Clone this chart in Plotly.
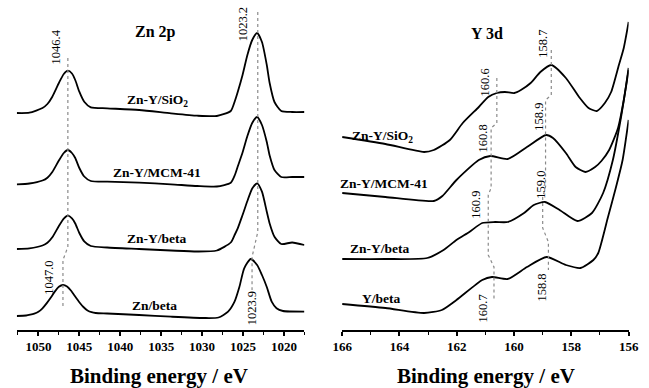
import plotly.graph_objects as go

# ---------------- Zn 2p panel (binding energy in eV, stacked intensity in a.u.) -------------
zn_E = [1052.64, 1051.1, 1049.5, 1048.9, 1048.3, 1047.5, 1046.9, 1046.4, 1045.9, 1045.5,
        1045.0, 1044.4, 1043.6, 1041.6, 1037.7, 1033.8, 1030.6, 1028.2, 1026.5, 1026.0,
        1025.65, 1025.06, 1024.47, 1023.88, 1023.28, 1022.69, 1022.1, 1021.75, 1021.16,
        1020.33, 1019.0, 1017.5]
zn_sio2_I = [217, 217.3, 222, 226, 233.3, 247, 256, 259.3, 256.5, 250,
             238.3, 228.3, 222.7, 221.7, 220, 216.7, 214.3, 214, 219, 229,
             238, 255, 275, 290, 297, 288, 265, 247, 228,
             219, 218, 218]
zn_mcm_I = [145.7, 146.5, 149.5, 152.3, 158, 169.5, 177, 180, 177, 172,
            162, 153.5, 149, 148.3, 147.3, 145.7, 144, 143.5, 147.3, 155,
            163.5, 177.5, 194, 207, 213, 205, 188, 174.5, 160,
            153, 153, 153]
zn_beta_I = [81, 81.7, 84.5, 87.2, 92.7, 104, 111.4, 114.3, 111.6, 106.5,
             97, 88.6, 84, 82.5, 81, 79.5, 78.5, 79.5, 87.5, 95.5,
             101.6, 115, 129, 141.6, 146.7, 138.3, 118.3, 106.6, 93.3,
             86, 87.5, 85]
znb_E = [1052.64, 1051.5, 1051.0, 1050.5, 1050.0, 1049.5, 1049.0, 1048.5, 1048.0, 1047.5,
         1047.0, 1046.5, 1046.0, 1045.5, 1045.0, 1044.5, 1044.0, 1043.5, 1043.0, 1041.6,
         1037.7, 1033.8, 1029.8, 1028.0, 1026.83, 1026.04, 1025.45, 1024.86, 1024.07,
         1023.28, 1022.69, 1022.1, 1021.5, 1020.91, 1020.12, 1017.5]
znb_I = [14, 14.5, 15.3, 16.4, 18.3, 21.7, 26.6, 32.2, 38.4, 43.2,
         45, 43.5, 39.2, 33.4, 27.8, 23, 19.6, 17.8, 17, 16.5,
         15, 13.3, 12, 12.5, 18.3, 28.3, 43, 61.7, 71,
         65, 55, 43, 28.3, 21.7, 19, 18.3]

zn_guide1_E = [1046.4, 1046.4, 1047.0, 1047.0]
zn_guide1_I = [272, 83, 70, 23]
zn_guide2_E = [1023.2, 1023.2, 1023.9, 1023.9]
zn_guide2_I = [318, 98, 73, 40]

# ---------------- Y 3d panel -------------
y_sio_E = [166.0, 164.49, 163.14, 162.80, 162.24, 161.79, 161.23, 160.90, 160.60, 160.32,
           159.99, 159.76, 159.42, 159.08, 158.70, 158.19, 157.73, 157.40, 157.11, 156.83,
           156.61, 156.34, 156.17, 156.0]
y_sio_I = [193, 186, 178, 180, 190, 207, 223, 233, 237, 238,
           237, 240, 247, 258, 265, 252, 233, 222, 219, 227,
           238, 265, 282, 308]
y_mcm_E = [166.0, 164.49, 162.80, 162.5, 162.01, 161.23, 160.83, 160.22, 159.55, 158.88,
           158.64, 158.19, 157.85, 157.51, 157.17, 156.95, 156.68, 156.37, 156.17, 156.0]
y_mcm_I = [137, 133, 129, 134, 150, 170, 174, 171, 183, 195,
           192, 177, 163, 158, 163, 169, 180, 202, 230, 262]
y_beta_E = [166.0, 164.49, 163.03, 162.46, 162.01, 161.56, 161.11, 160.66, 160.22, 159.65,
            159.31, 158.92, 158.41, 157.79, 157.28, 156.89, 156.55, 156.27, 156.0]
y_beta_I = [71, 71, 72, 80, 90, 98, 107, 108, 108, 117,
            125, 128, 120, 109, 117, 137, 170, 212, 260]
y_yb_E = [166.0, 164.49, 163.14, 162.52, 162.01, 161.11, 160.77, 160.22, 159.55, 158.86,
          158.19, 157.68, 157.23, 157.06, 156.72, 156.44, 156.21, 156.0]
y_yb_I = [26, 22, 17, 20, 30, 50, 53, 51, 63, 73,
          65, 62, 70, 77, 113, 143, 170, 210]

y_guide1_E = [160.6, 160.6, 160.8, 160.8, 160.9, 160.9, 160.7, 160.7]
y_guide1_I = [252, 207, 202, 142, 135, 75, 63, 30]
y_guide2_E = [158.7, 158.7, 158.9, 158.9, 159.0, 159.0, 158.8, 158.8]
y_guide2_I = [280, 235, 230, 143, 133, 102, 88, 60]

zn_ticks = [1050, 1045, 1040, 1035, 1030, 1025, 1020]
y_ticks = [166, 164, 162, 160, 158, 156]

zn_labels = ["Zn-Y/SiO<sub>2</sub>", "Zn-Y/MCM-41", "Zn-Y/beta", "Zn/beta"]
zn_label_pos = [(1035.4, 230), (1035.5, 158), (1035.5, 92), (1035.8, 25)]
y_labels = ["Zn-Y/SiO<sub>2</sub>", "Zn-Y/MCM-41", "Zn-Y/beta", "Y/beta"]
y_label_pos = [(164.58, 194), (164.53, 147), (164.68, 82), (164.63, 32)]

zn_peak_text = ["1046.4", "1023.2", "1047.0", "1023.9"]
zn_peak_pos = [(1047.8, 283), (1024.97, 306), (1048.73, 52), (1023.87, 22)]
y_peak_text = ["160.6", "160.8", "160.9", "160.7", "158.7", "158.9", "159.0", "158.8"]
y_peak_pos = [(161.0, 248), (161.07, 192), (161.34, 125), (161.07, 22),
              (159.0, 286), (159.14, 213), (159.07, 145), (159.04, 42)]

FONT = "Liberation Serif"
fig = go.Figure()

line = dict(color="black", width=1.8, shape="spline", smoothing=0.6)
guide = dict(color="#8a8a8a", width=1.2, dash="dot")
for I in [zn_sio2_I, zn_mcm_I, zn_beta_I]:
    fig.add_trace(go.Scatter(x=zn_E, y=I, mode="lines", line=line, xaxis="x", yaxis="y"))
fig.add_trace(go.Scatter(x=znb_E, y=znb_I, mode="lines", line=line, xaxis="x", yaxis="y"))
fig.add_trace(go.Scatter(x=zn_guide1_E, y=zn_guide1_I, mode="lines", line=guide, xaxis="x", yaxis="y"))
fig.add_trace(go.Scatter(x=zn_guide2_E, y=zn_guide2_I, mode="lines", line=guide, xaxis="x", yaxis="y"))

for E, I in [(y_sio_E, y_sio_I), (y_mcm_E, y_mcm_I), (y_beta_E, y_beta_I), (y_yb_E, y_yb_I)]:
    fig.add_trace(go.Scatter(x=E, y=I, mode="lines", line=line, xaxis="x2", yaxis="y2"))
fig.add_trace(go.Scatter(x=y_guide1_E, y=y_guide1_I, mode="lines", line=guide, xaxis="x2", yaxis="y2"))
fig.add_trace(go.Scatter(x=y_guide2_E, y=y_guide2_I, mode="lines", line=guide, xaxis="x2", yaxis="y2"))

W, H = 649, 388
ydom = [1 - 330 / H, 1]
zn_range = [1052.64, 1017.5]
y_range = [166, 156]
zn_dom = [7 / W, 303.8 / W]
y_dom = [342.7 / W, 638.3 / W]

tickfont = dict(family=FONT, size=13, color="black", weight="bold")

def xaxis(rng, dom, ticks, minor_dtick):
    return dict(range=rng, domain=dom, tickmode="array", tickvals=ticks,
                ticktext=[str(t) for t in ticks], showline=True, linecolor="black",
                linewidth=1.5, ticks="outside", ticklen=4, tickwidth=1.5, tickcolor="black",
                minor=dict(dtick=minor_dtick, ticks="outside", ticklen=3, tickwidth=1.3,
                           tickcolor="black", tick0=ticks[0]),
                tickfont=tickfont, showgrid=False, zeroline=False, fixedrange=True)

def xoverlay(rng, ticks, minor_dtick, over, anchor):
    return dict(range=rng, overlaying=over, anchor=anchor, tickmode="array", tickvals=ticks,
                showticklabels=False, showline=False, ticks="inside", ticklen=4,
                tickwidth=1.5, tickcolor="black",
                minor=dict(dtick=minor_dtick, ticks="inside", ticklen=3, tickwidth=1.3,
                           tickcolor="black", tick0=ticks[0]),
                showgrid=False, zeroline=False)

ann = []
for t, (x, y) in zip(zn_labels, zn_label_pos):
    ann.append(dict(x=x, y=y, xref="x", yref="y", text=t, showarrow=False,
                    font=dict(family=FONT, size=13.5, color="black", weight="bold")))
for t, (x, y) in zip(y_labels, y_label_pos):
    ann.append(dict(x=x, y=y, xref="x2", yref="y2", text=t, showarrow=False,
                    font=dict(family=FONT, size=13.5, color="black", weight="bold")))
for t, (x, y) in zip(zn_peak_text, zn_peak_pos):
    ann.append(dict(x=x, y=y, xref="x", yref="y", text=t, showarrow=False, textangle=-90,
                    font=dict(family=FONT, size=12.5, color="black")))
for t, (x, y) in zip(y_peak_text, y_peak_pos):
    ann.append(dict(x=x, y=y, xref="x2", yref="y2", text=t, showarrow=False, textangle=-90,
                    font=dict(family=FONT, size=12.5, color="black")))
ann.append(dict(x=1035.7, y=298, xref="x", yref="y", text="Zn 2p", showarrow=False,
                font=dict(family=FONT, size=16, color="black", weight="bold")))
ann.append(dict(x=160.93, y=297, xref="x2", yref="y2", text="Y 3d", showarrow=False,
                font=dict(family=FONT, size=16, color="black", weight="bold")))
for xc in [154 / W, 491 / W]:
    ann.append(dict(x=xc, y=1 - 376 / H, xref="paper", yref="paper", text="Binding energy / eV",
                    showarrow=False, xanchor="center", yanchor="middle",
                    font=dict(family=FONT, size=21, color="black", weight="bold")))

fig.update_layout(
    width=W, height=H, margin=dict(l=0, r=0, t=0, b=0),
    paper_bgcolor="white", plot_bgcolor="white", showlegend=False,
    xaxis=xaxis(zn_range, zn_dom, zn_ticks, 2.5),
    xaxis2=xaxis(y_range, y_dom, y_ticks, 1),
    xaxis3=xoverlay(zn_range, zn_ticks, 2.5, "x", "y"),
    xaxis4=xoverlay(y_range, y_ticks, 1, "x2", "y2"),
    yaxis=dict(domain=ydom, range=[0, 330], visible=False, anchor="x", fixedrange=True),
    yaxis2=dict(domain=ydom, range=[0, 330], visible=False, anchor="x2", fixedrange=True),
    annotations=ann,
)

fig.write_html("out.html", config={"displayModeBar": False},
               post_script="document.body.style.margin='0';document.body.style.overflow='hidden';")
